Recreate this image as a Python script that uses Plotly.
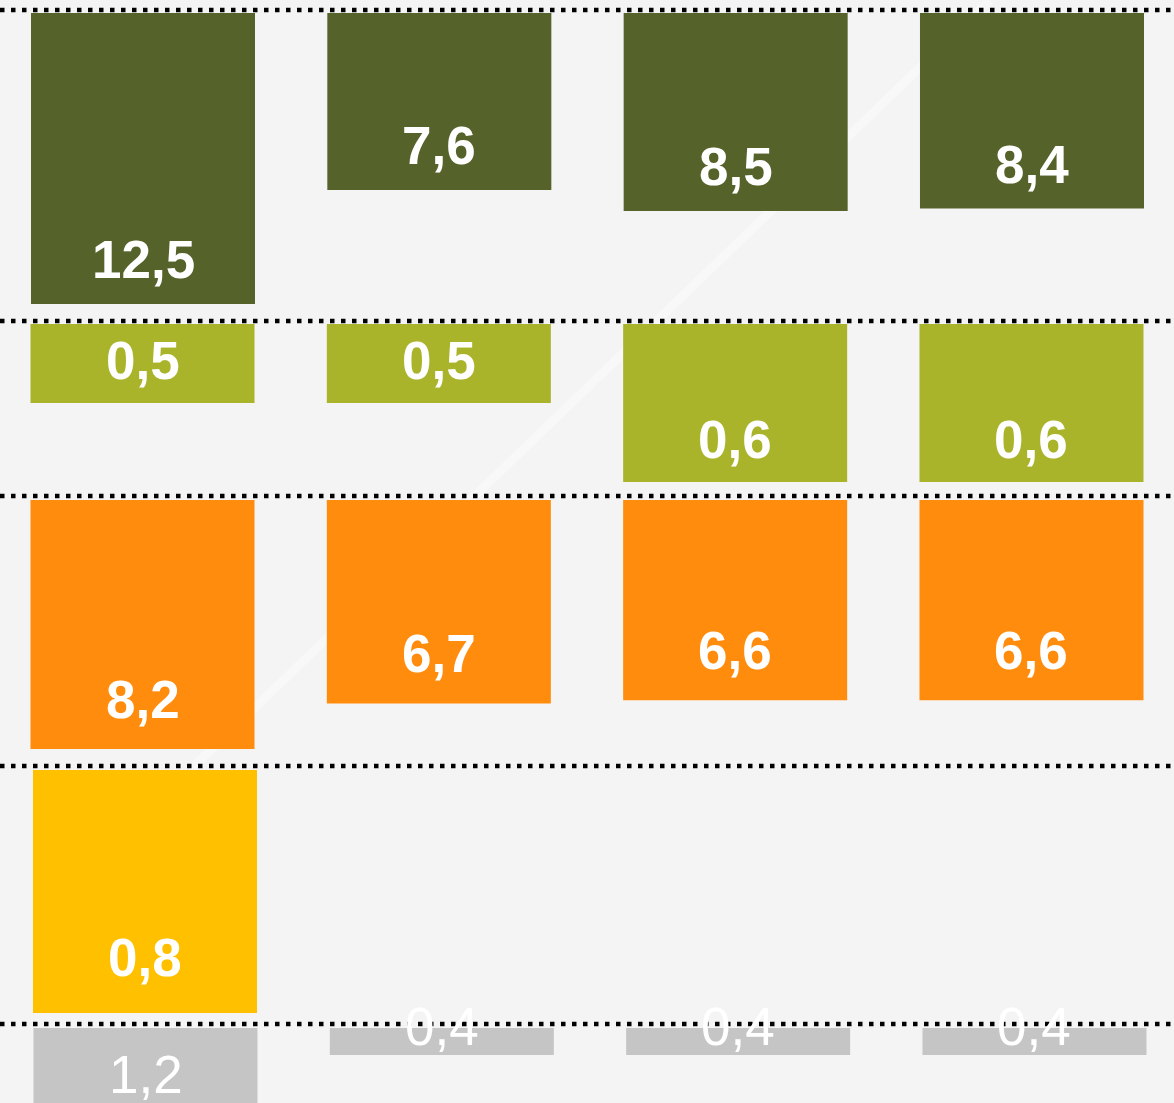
import plotly.graph_objects as go

W, H = 1174, 1103

# ---- data ----
categories = ["K1", "K2", "K3", "K4"]
row1_values = [12.5, 7.6, 8.5, 8.4]
row2_values = [0.5, 0.5, 0.6, 0.6]
row3_values = [8.2, 6.7, 6.6, 6.6]
row4_values = [0.8, None, None, None]
row5_values = [1.2, 0.4, 0.4, 0.4]
rows = [row1_values, row2_values, row3_values, row4_values, row5_values]

# ---- styles (per panel) ----
styles = [
    dict(color="#55622A", top=13, bottom=318, vrange=(0, 13.1), xshift=0.0, lift=25, bold=True),
    dict(color="#A9B42B", top=324, bottom=492, vrange=(0.4, 0.6127), xshift=-0.5, lift=23, bold=True),
    dict(color="#FF8C0D", top=500, bottom=762, vrange=(0, 8.63), xshift=-0.5, lift=30, bold=True),
    dict(color="#FFC000", top=770, bottom=1020, vrange=(0, 0.823), xshift=2.0, lift=36, bold=True),
    dict(color="#C4C5C4", top=1028, bottom=1103, vrange=(0, 1.111), xshift=2.5, lift=9, bold=False),
]
divider_px = [10, 321, 496, 766, 1024]

PPU = 296.33       # pixels per category step
FIRST_CENTER = 143  # pixel centre of first category
BAR_WIDTH = 0.756

fig = go.Figure()
annotations = []
layout_axes = {}

for i, (vals, st) in enumerate(zip(rows, styles)):
    n = "" if i == 0 else str(i + 1)
    xa, ya = "x" + n, "y" + n
    fig.add_trace(go.Bar(
        x=categories, y=vals, xaxis=xa, yaxis=ya,
        marker=dict(color=st["color"], line=dict(width=0)),
        width=BAR_WIDTH, showlegend=False, hoverinfo="skip",
    ))
    c0 = FIRST_CENTER + st["xshift"]
    layout_axes["xaxis" + n] = dict(
        domain=[0, 1], type="category", categoryorder="array", categoryarray=categories,
        range=[(0 - c0) / PPU, (W - c0) / PPU], visible=False, anchor=ya, fixedrange=True,
    )
    vmin, vmax = st["vrange"]
    layout_axes["yaxis" + n] = dict(
        domain=[1 - st["bottom"] / H, 1 - st["top"] / H],
        range=[vmax, vmin], visible=False, anchor=xa, fixedrange=True,
    )
    for cat, v in zip(categories, vals):
        if v is None:
            continue
        annotations.append(dict(
            x=cat, y=min(v, vmax), xref=xa, yref=ya,
            text=f"{v:.1f}".replace(".", ","), showarrow=False,
            yanchor="bottom", xanchor="center", yshift=st["lift"] - 12,
            font=dict(family="Liberation Sans, Arial, sans-serif", size=53, color="white",
                      weight="bold" if st["bold"] else "normal"),
        ))

shapes = [
    # faint diagonal light streak in the background
    dict(type="line", xref="paper", yref="paper", x0=990 / W, y0=1 - 0 / H, x1=190 / W, y1=1 - 770 / H,
         line=dict(color="rgba(255,255,255,0.35)", width=9), layer="below"),
]
for ypx in divider_px:
    shapes.append(dict(
        type="line", xref="paper", yref="paper", x0=0, x1=1, y0=1 - ypx / H, y1=1 - ypx / H,
        line=dict(color="black", width=4.5, dash="4.5px,6.5px"), layer="above",
    ))

fig.update_layout(
    width=W, height=H, margin=dict(l=0, r=0, t=0, b=0),
    paper_bgcolor="#F4F4F4", plot_bgcolor="rgba(0,0,0,0)",
    barmode="group", annotations=annotations, shapes=shapes, showlegend=False,
    **layout_axes,
)

fig.write_html(
    "out.html",
    config=dict(displayModeBar=False),
    post_script="document.body.style.margin='0';document.body.style.overflow='hidden';",
)
